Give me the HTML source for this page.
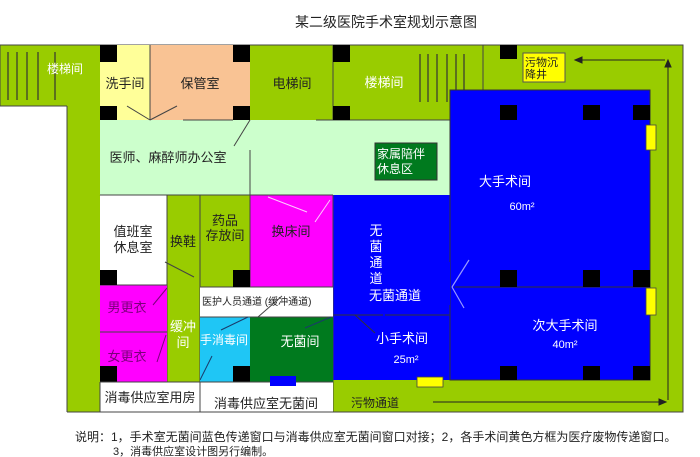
<!DOCTYPE html>
<html><head><meta charset="utf-8"><style>
html,body{margin:0;padding:0;background:#fff;}
svg{display:block;font-family:"Liberation Sans","Noto Sans CJK SC",sans-serif;}
</style></head><body>
<svg width="700" height="457" viewBox="0 0 700 457" xmlns="http://www.w3.org/2000/svg">
<rect width="700" height="457" fill="#fff"/>
<text x="386" y="27" font-size="14" text-anchor="middle" fill="#222">某二级医院手术室规划示意图</text>
<rect x="0" y="45" width="683" height="367" fill="#99cc00" stroke="#444" stroke-width="1"/>
<rect x="0" y="106" width="67" height="320" fill="#fff"/>
<line x1="0" y1="106" x2="67" y2="106" stroke="#444"/>
<line x1="67" y1="106" x2="67" y2="412" stroke="#444"/>
<rect x="0" y="412" width="68" height="20" fill="#fff"/>
<g stroke="#333" stroke-width="1.2"><line x1="8" y1="52" x2="8" y2="100"/><line x1="17" y1="52" x2="17" y2="100"/><line x1="27" y1="52" x2="27" y2="100"/><line x1="38" y1="52" x2="38" y2="100"/><line x1="55" y1="52" x2="55" y2="100"/></g>
<text x="65" y="73" font-size="12" fill="#fff" text-anchor="middle">楼梯间</text>
<rect x="100" y="45" width="50" height="75" fill="#ffff99"/>
<rect x="150" y="45" width="100" height="75" fill="#f9c394"/>
<line x1="150" y1="45" x2="150" y2="120" stroke="#444"/>
<line x1="333" y1="45" x2="333" y2="120" stroke="#444"/>
<line x1="483" y1="45" x2="483" y2="90" stroke="#444"/>
<text x="125" y="88" font-size="13" text-anchor="middle" fill="#222">洗手间</text>
<text x="200" y="88" font-size="13" text-anchor="middle" fill="#222">保管室</text>
<text x="292" y="88" font-size="13" text-anchor="middle" fill="#222">电梯间</text>
<text x="384" y="87" font-size="13" text-anchor="middle" fill="#fff">楼梯间</text>
<g stroke="#333" stroke-width="1.2"><line x1="420" y1="54" x2="420" y2="102"/><line x1="428" y1="54" x2="428" y2="102"/><line x1="437" y1="54" x2="437" y2="102"/><line x1="447" y1="54" x2="447" y2="102"/><line x1="456" y1="54" x2="456" y2="102"/><line x1="464" y1="54" x2="464" y2="102"/></g>
<rect x="100" y="120" width="350" height="75" fill="#ccffcc"/>
<line x1="250" y1="150" x2="250" y2="195" stroke="#444"/>
<line x1="183" y1="120" x2="233" y2="120" stroke="#444"/>
<line x1="316" y1="120" x2="450" y2="120" stroke="#444"/>
<g stroke="#444" stroke-width="1"><line x1="127" y1="106" x2="150" y2="120"/><line x1="150" y1="120" x2="177" y2="106"/><line x1="250" y1="120" x2="234" y2="146"/><line x1="100" y1="195" x2="125" y2="207"/><line x1="167" y1="195" x2="195" y2="212"/><line x1="200" y1="195" x2="208" y2="215"/></g>
<text x="168" y="162" font-size="13" text-anchor="middle" fill="#222">医师、麻醉师办公室</text>
<rect x="375" y="143" width="62" height="37" fill="#007a1e" stroke="#333"/>
<text x="377" y="158" font-size="12" fill="#fff">家属陪伴</text>
<text x="377" y="173" font-size="12" fill="#fff">休息区</text>
<rect x="450" y="90" width="200" height="290" fill="#0000ff" stroke="#333"/>
<rect x="333" y="195" width="117" height="185" fill="#0000ff"/>
<line x1="450" y1="195" x2="450" y2="262" stroke="#333"/>
<line x1="450" y1="305" x2="450" y2="380" stroke="#333"/>
<line x1="455" y1="287" x2="650" y2="287" stroke="#333"/>
<line x1="333" y1="315" x2="383" y2="315" stroke="#333"/>
<line x1="385" y1="315" x2="450" y2="315" stroke="#333"/>
<line x1="355" y1="315" x2="375" y2="333" stroke="#333"/>
<g stroke="#9999ff" stroke-width="1.2"><line x1="469" y1="260" x2="452" y2="287"/><line x1="452" y1="287" x2="464" y2="308"/></g>
<text x="505" y="186" font-size="13" fill="#fff" text-anchor="middle">大手术间</text>
<text x="522" y="210" font-size="11" fill="#fff" text-anchor="middle">60m²</text>
<text x="565" y="330" font-size="13" fill="#fff" text-anchor="middle">次大手术间</text>
<text x="565" y="348" font-size="11" fill="#fff" text-anchor="middle">40m²</text>
<text x="402" y="343" font-size="13" fill="#fff" text-anchor="middle">小手术间</text>
<text x="406" y="363" font-size="11" fill="#fff" text-anchor="middle">25m²</text>
<g font-size="13" fill="#fff" text-anchor="middle"><text x="376" y="235">无</text><text x="376" y="251">菌</text><text x="376" y="267">通</text><text x="376" y="283">道</text></g>
<text x="395" y="300" font-size="13" fill="#fff" text-anchor="middle">无菌通道</text>
<g fill="#000">
<rect x="100" y="45" width="17" height="17"/><rect x="100" y="106" width="17" height="14"/>
<rect x="233" y="45" width="17" height="17"/><rect x="233" y="106" width="17" height="14"/>
<rect x="333" y="45" width="17" height="17"/><rect x="333" y="106" width="17" height="14"/>
<rect x="500" y="45" width="17" height="14"/>
<rect x="500" y="105" width="17" height="15"/><rect x="583" y="105" width="17" height="15"/><rect x="633" y="105" width="17" height="15"/>
<rect x="500" y="270" width="17" height="17"/><rect x="583" y="270" width="17" height="17"/><rect x="633" y="270" width="17" height="17"/>
<rect x="500" y="366" width="17" height="14"/><rect x="583" y="366" width="17" height="14"/><rect x="633" y="366" width="17" height="14"/>
</g>
<g fill="#ffff00" stroke="#444" stroke-width="0.8">
<rect x="646" y="125" width="10" height="25"/><rect x="646" y="288" width="10" height="27"/><rect x="417" y="377" width="26" height="10"/>
</g>
<rect x="523" y="53" width="42" height="29" fill="#ffff00" stroke="#555"/>
<text x="525" y="66" font-size="11" fill="#222">污物沉</text>
<text x="525" y="78" font-size="11" fill="#222">降井</text>
<g stroke="#222" stroke-width="1" fill="#222">
<line x1="668" y1="400" x2="668" y2="65"/><polygon points="668,60 665,67 671,67"/>
<line x1="665" y1="60" x2="580" y2="60"/><polygon points="575,60 582,57 582,63"/>
<line x1="433" y1="402" x2="660" y2="402"/><polygon points="666,402 659,399 659,405"/>
</g>
<text x="375" y="407" font-size="12" fill="#222" text-anchor="middle">污物通道</text>
<rect x="100" y="195" width="67" height="90" fill="#fff"/>
<rect x="167" y="195" width="33" height="187" fill="#99cc00"/>
<rect x="200" y="195" width="50" height="92" fill="#99cc00"/>
<rect x="250" y="195" width="83" height="92" fill="#ff00ff"/>
<g stroke="#444"><line x1="100" y1="195" x2="333" y2="195"/><line x1="167" y1="195" x2="167" y2="382"/><line x1="200" y1="195" x2="200" y2="412"/><line x1="250" y1="195" x2="250" y2="287"/><line x1="333" y1="195" x2="333" y2="412"/></g>
<text x="133" y="236" font-size="13" text-anchor="middle" fill="#222">值班室</text>
<text x="133" y="252" font-size="13" text-anchor="middle" fill="#222">休息室</text>
<text x="183" y="246" font-size="13" text-anchor="middle" fill="#222">换鞋</text>
<text x="225" y="225" font-size="13" text-anchor="middle" fill="#222">药品</text>
<text x="225" y="240" font-size="13" text-anchor="middle" fill="#222">存放间</text>
<text x="291" y="236" font-size="13" text-anchor="middle" fill="#222">换床间</text>
<line x1="330" y1="200" x2="315" y2="222" stroke="#ffccff"/>
<line x1="268" y1="197" x2="307" y2="212" stroke="#ffccff"/>
<line x1="165" y1="262" x2="194" y2="277" stroke="#444"/>
<rect x="100" y="285" width="67" height="47" fill="#ff00ff"/>
<rect x="100" y="332" width="67" height="50" fill="#ff00ff"/>
<line x1="100" y1="332" x2="167" y2="332" stroke="#444"/>
<line x1="100" y1="285" x2="167" y2="285" stroke="#444"/>
<text x="127" y="312" font-size="13" text-anchor="middle" fill="#7a007a">男更衣</text>
<text x="127" y="361" font-size="13" text-anchor="middle" fill="#7a007a">女更衣</text>
<line x1="153" y1="305" x2="167" y2="288" stroke="#7a007a"/>
<line x1="157" y1="362" x2="166" y2="335" stroke="#7a007a"/>
<text x="183" y="331" font-size="13" text-anchor="middle" fill="#fff">缓冲</text>
<text x="183" y="347" font-size="13" text-anchor="middle" fill="#fff">间</text>
<rect x="200" y="287" width="133" height="30" fill="#fff"/>
<line x1="200" y1="287" x2="333" y2="287" stroke="#444"/>
<text x="202" y="305" font-size="10" fill="#222">医护人员通道 (缓冲通道)</text>
<rect x="200" y="317" width="50" height="65" fill="#1fc6f5"/>
<rect x="250" y="317" width="83" height="65" fill="#007a1e"/>
<line x1="200" y1="317" x2="333" y2="317" stroke="#444"/>
<text x="224" y="344" font-size="12" text-anchor="middle" fill="#fff">手消毒间</text>
<text x="300" y="346" font-size="13" text-anchor="middle" fill="#fff">无菌间</text>
<line x1="221" y1="330" x2="248" y2="317" stroke="#1a3a6a"/>
<line x1="258" y1="317" x2="282" y2="296" stroke="#444"/>
<line x1="305" y1="328" x2="331" y2="317" stroke="#1a3a6a"/>
<line x1="200" y1="380" x2="212" y2="356" stroke="#1a3a6a"/>
<rect x="100" y="366" width="17" height="16" fill="#000"/>
<rect x="233" y="366" width="17" height="16" fill="#000"/>
<rect x="233" y="270" width="17" height="17" fill="#000"/>
<rect x="100" y="270" width="17" height="15" fill="#000"/>
<rect x="100" y="382" width="233" height="30" fill="#fff"/>
<g stroke="#444"><line x1="100" y1="382" x2="333" y2="382"/><line x1="100" y1="382" x2="100" y2="412"/><line x1="67" y1="412" x2="683" y2="412"/><line x1="200" y1="382" x2="200" y2="412"/></g>
<rect x="270" y="376" width="26" height="10" fill="#0000ff"/>
<text x="150" y="402" font-size="13" text-anchor="middle" fill="#222">消毒供应室用房</text>
<text x="266" y="408" font-size="13" text-anchor="middle" fill="#222">消毒供应室无菌间</text>
<text x="75" y="441" font-size="12" fill="#222">说明：1，手术室无菌间蓝色传递窗口与消毒供应室无菌间窗口对接；2，各手术间黄色方框为医疗废物传递窗口。</text>
<text x="113" y="455" font-size="11" fill="#222">3，消毒供应室设计图另行编制。</text>
</svg>
</body></html>
